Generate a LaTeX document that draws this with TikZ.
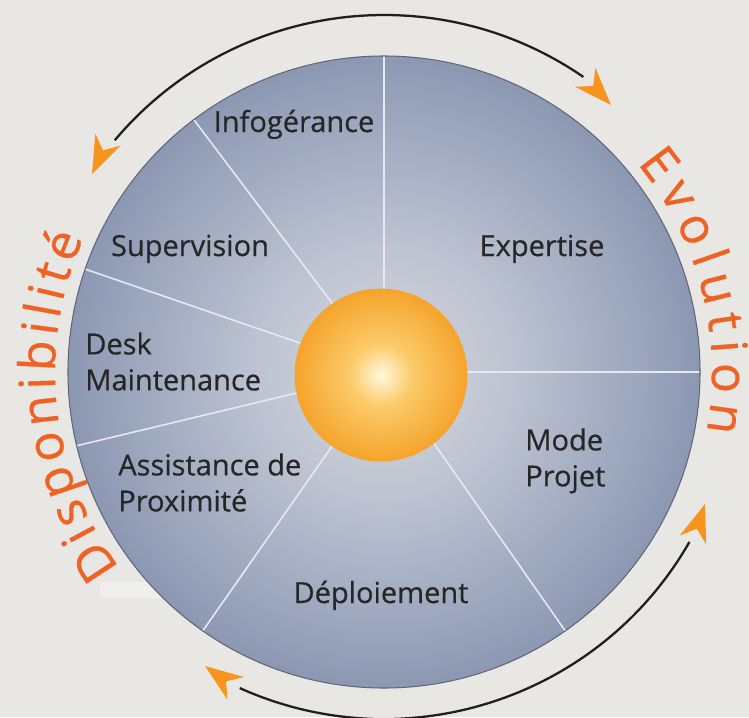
\documentclass[tikz,border=0pt]{standalone}
\usepackage{fontspec}
\setmainfont{Open Sans}
\newfontfamily\ringfamily{Open Sans}[FakeBold=0.6]
\newfontfamily\sectorfamily{Open Sans}[FakeBold=0.5]
\usetikzlibrary{decorations.text}

\definecolor{bgcol}{HTML}{E8E7E3}
\definecolor{patchcol}{HTML}{EFEEEB}
\definecolor{disclight}{HTML}{D5D8E0}
\definecolor{discmid}{HTML}{BDC3D1}
\definecolor{discdark}{HTML}{8C98B3}
\definecolor{rimcol}{HTML}{5F6677}
\definecolor{spokecol}{HTML}{E6EAF0}
\definecolor{sunlight}{HTML}{FFF8DE}
\definecolor{sunmid}{HTML}{FBCB6A}
\definecolor{sunedge}{HTML}{F5A42C}
\definecolor{arcblack}{HTML}{1F1F1F}
\definecolor{arroworange}{HTML}{F7941E}
\definecolor{ringorange}{HTML}{EF6224}
\definecolor{labelcol}{HTML}{262626}

\newcommand\labelfont{\sectorfamily\fontsize{16.5}{20.5}\selectfont}
\newcommand\ringfont{\ringfamily\fontsize{28.5}{30}\selectfont}

\pgfdeclareradialshading{discshade}{\pgfpoint{0bp}{0bp}}{color(0bp)=(disclight); color(10bp)=(discmid); color(25bp)=(discdark); color(50bp)=(discdark)}
\pgfdeclareradialshading{sunshade}{\pgfpoint{0bp}{0bp}}{color(0bp)=(sunlight); color(9bp)=(sunmid); color(25bp)=(sunedge); color(50bp)=(sunedge)}

\tikzset{
  pics/arrowhead/.style={code={\fill[arroworange] (0,0) -- (-38,14) -- (-26,0) -- (-38,-14) -- cycle;}}
}

\begin{document}
\begin{tikzpicture}[x=0.02cm,y=0.02cm,
    spoke/.style={draw=spokecol,line width=0.9pt},
    sectorlabel/.style={font=\labelfont,text=labelcol,inner sep=0pt},
    arcline/.style={draw=arcblack,line width=1.3pt},
    ringtext/.style={decorate,decoration={text along path,text align={fit to path},text color=ringorange}}]
\useasboundingbox (-384,-345) rectangle (365,372);
\fill[bgcol] (-384,-345) rectangle (365,372);
\fill[patchcol] (-284,-210) rectangle (-180,-226);

% disc and spokes
\shade[shading=discshade] (0,0) circle[radius=316];
\foreach \ang in {0,90,127,161,193.5,235,305}
  \draw[spoke] (\ang:80) -- (\ang:316);
\draw[draw=rimcol,line width=0.6pt] (0,0) circle[radius=316];

% centre
\shade[shading=sunshade] (-3,-3) circle[radius=86];
\draw[draw=sunedge,line width=0.5pt] (-3,-3) circle[radius=86];

% sectors
\node[sectorlabel,anchor=base] (infog) at (-90,240) {Infogérance};
\node[sectorlabel,anchor=base] (superv) at (-194,116) {Supervision};
\node[sectorlabel,anchor=base] (expert) at (158,116) {Expertise};
\node[sectorlabel,anchor=north west,align=left] (desk) at (-299,40) {Desk\\Maintenance};
\node[sectorlabel,anchor=north west,align=left] (assist) at (-266,-81) {Assistance de\\Proximité};
\node[sectorlabel,anchor=north west,align=left] (mode) at (141,-56) {Mode\\Projet};
\node[sectorlabel,anchor=base] (deploi) at (-3,-231) {Déploiement};

% outer cycle
\draw[arcline] (0,5) ++(55.5:352) arc[start angle=55.5,end angle=139.9,radius=352];
\draw[arcline] (0,5) ++(245.8:352) arc[start angle=245.8,end angle=330.2,radius=352];
\pic[rotate=245] at (-292,198) {arrowhead};
\pic[rotate=313] at (227,267) {arrowhead};
\pic[rotate=144] at (-179,-294) {arrowhead};
\pic[rotate=71.5] at (321,-132) {arrowhead};

\path[ringtext,decoration={text={|\ringfont|Evolution}}] (39.5:328) arc[start angle=39.5,end angle=-10.5,radius=328];
\path[ringtext,decoration={text={|\ringfont|Disponibilité}}] (216.5:329) arc[start angle=216.5,end angle=156,radius=329];
\end{tikzpicture}
\end{document}
